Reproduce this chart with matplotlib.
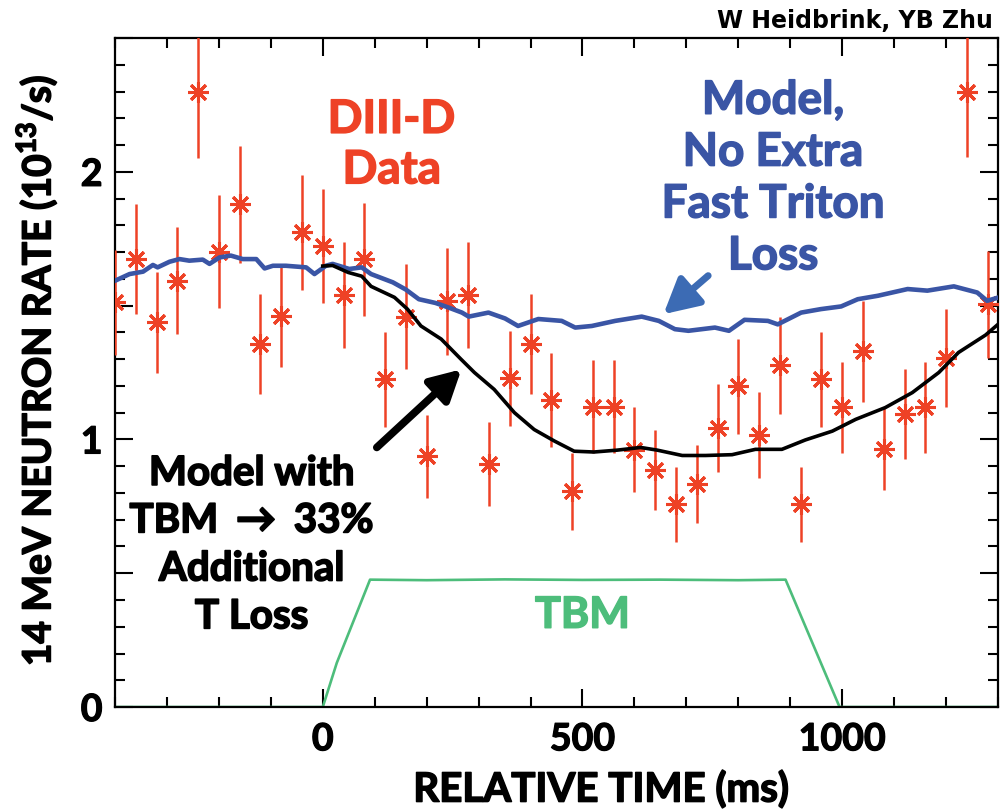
import numpy as np
import matplotlib.pyplot as plt
import matplotlib.patheffects as pe
from matplotlib.ticker import MultipleLocator

plt.rcParams['font.family'] = ['Lato', 'DejaVu Sans']
plt.rcParams['mathtext.fontset'] = 'custom'
plt.rcParams['mathtext.rm'] = 'Lato:bold'
plt.rcParams['mathtext.bf'] = 'Lato:bold'

# measured neutron rate (every 40 ms)
data_t = [-400, -360, -320, -280, -240, -200, -160, -120, -80, -40, 0, 40, 80, 120,
          160, 200, 240, 280, 320, 360, 400, 440, 480, 520, 560, 600, 640, 680,
          720, 760, 800, 840, 880, 920, 960, 1000, 1040, 1080, 1120, 1160, 1200,
          1240, 1280]
data_rate = [1.512, 1.674, 1.437, 1.593, 2.298, 1.702, 1.878, 1.356, 1.460, 1.775,
             1.722, 1.539, 1.673, 1.225, 1.459, 0.937, 1.516, 1.540, 0.908, 1.228,
             1.358, 1.148, 0.806, 1.122, 1.122, 0.962, 0.887, 0.757, 0.835, 1.042,
             1.198, 1.018, 1.277, 0.757, 1.225, 1.120, 1.329, 0.964, 1.095, 1.120,
             1.304, 2.298, 1.506]
data_err = [0.197, 0.207, 0.190, 0.200, 0.245, 0.210, 0.220, 0.187, 0.190, 0.215,
            0.212, 0.199, 0.210, 0.177, 0.195, 0.155, 0.199, 0.199, 0.156, 0.177,
            0.187, 0.175, 0.145, 0.173, 0.173, 0.160, 0.150, 0.140, 0.146, 0.164,
            0.176, 0.161, 0.182, 0.140, 0.177, 0.171, 0.189, 0.152, 0.169, 0.171,
            0.184, 0.243, 0.200]

# model, no extra fast triton loss
blue_t = [-400, -372, -346, -327, -318, -295, -276, -257, -231, -218, -199, -177,
          -154, -128, -112, -96, -71, -32, -16, 6, 19, 51, 75, 93, 135, 160, 185,
          217, 242, 268, 281, 319, 351, 376, 415, 460, 486, 518, 563, 614, 647,
          678, 704, 755, 782, 812, 857, 876, 921, 959, 998, 1030, 1069, 1126,
          1164, 1215, 1260, 1279, 1300]
blue_rate = [1.593, 1.618, 1.627, 1.652, 1.643, 1.664, 1.674, 1.668, 1.672, 1.656,
             1.680, 1.687, 1.674, 1.674, 1.639, 1.649, 1.649, 1.643, 1.618, 1.649,
             1.656, 1.637, 1.643, 1.618, 1.587, 1.560, 1.524, 1.510, 1.493, 1.474,
             1.459, 1.474, 1.452, 1.424, 1.450, 1.443, 1.418, 1.424, 1.443, 1.459,
             1.443, 1.412, 1.406, 1.418, 1.406, 1.447, 1.443, 1.430, 1.474, 1.487,
             1.497, 1.524, 1.537, 1.562, 1.556, 1.572, 1.549, 1.518, 1.530]

# model with TBM -> 33% additional T loss
black_t = [0, 19, 49, 75, 93, 138, 163, 189, 228, 266, 292, 330, 369, 407, 446,
           484, 522, 567, 612, 644, 692, 737, 788, 833, 884, 929, 981, 1026, 1083,
           1135, 1186, 1224, 1276, 1300]
black_rate = [1.648, 1.650, 1.624, 1.610, 1.572, 1.531, 1.487, 1.424, 1.375, 1.300,
              1.250, 1.187, 1.100, 1.037, 0.994, 0.956, 0.953, 0.960, 0.970, 0.960,
              0.940, 0.940, 0.943, 0.963, 0.963, 0.998, 1.031, 1.075, 1.119, 1.175,
              1.250, 1.325, 1.390, 1.430]

# TBM waveform
tbm_t = [-400, 0, 27, 91, 200, 350, 500, 650, 800, 891, 995, 1300]
tbm_val = [0, 0, 0.165, 0.476, 0.474, 0.477, 0.475, 0.476, 0.474, 0.476, 0, 0]

red = '#ee4226'
blue = '#3a55a5'
green = '#4dbd7b'


# slightly heavier text, the original font is a black weight
def thick(color, w=1.1):
    return [pe.withStroke(linewidth=w, foreground=color)]


fig = plt.figure(figsize=(10, 8.11), dpi=100)
ax = fig.add_axes([0.115, 0.1282, 0.883, 0.8249])

ax.plot(tbm_t, tbm_val, color=green, lw=1.9, zorder=2)
ax.errorbar(data_t, data_rate, yerr=data_err, fmt='none', ecolor=red,
            elinewidth=1.8, capsize=0, zorder=3)
ax.plot(data_t, data_rate, ls='none', marker=(8, 2, 0), ms=15, mew=2.2,
        color=red, zorder=3)
ax.plot(blue_t, blue_rate, color=blue, lw=3.3, zorder=4)
ax.plot(black_t, black_rate, color='black', lw=2.6, zorder=5)

ax.set_xlim(-400, 1300)
ax.set_ylim(0, 2.5)
ax.xaxis.set_major_locator(MultipleLocator(500))
ax.xaxis.set_minor_locator(MultipleLocator(100))
ax.set_yticks([0, 0.5, 1, 1.5, 2, 2.5])
ax.set_yticklabels(['0', '', '1', '', '2', ''])
ax.set_yticks(np.arange(0, 2.51, 0.1), minor=True)
ax.tick_params(which='both', direction='in', top=True, right=True, width=1.5,
               labelsize=27)
ax.tick_params(which='major', length=13)
ax.tick_params(which='minor', length=7)
ax.tick_params(axis='x', pad=11)
ax.tick_params(axis='y', pad=9)
for lab in ax.get_xticklabels() + ax.get_yticklabels():
    lab.set_fontweight('bold')
    lab.set_path_effects(thick('black', 0.9))
for s in ax.spines.values():
    s.set_linewidth(1.6)

fig.text(0.601, 0.003, 'RELATIVE TIME (ms)', ha='center', va='bottom',
         fontsize=29, fontweight='bold', path_effects=thick('black'))
fig.text(0.037, 0.543, '14 MeV NEUTRON RATE (10$^{\\mathbf{13}}$/s)', rotation=90,
         ha='center', va='center', fontsize=28, fontweight='bold',
         path_effects=thick('black'))
fig.text(0.993, 0.965, 'W Heidbrink, YB Zhu', ha='right', va='baseline',
         fontsize=17, fontweight='bold', family=['DejaVu Sans'])

ax.text(133, 2.10, 'DIII-D\nData', color=red, ha='center', va='center',
        fontsize=33, fontweight='bold', linespacing=1.25, path_effects=thick(red))
ax.text(867, 1.975, 'Model,\nNo Extra\nFast Triton\nLoss', color=blue,
        ha='center', va='center', fontsize=33, fontweight='bold',
        linespacing=1.29, path_effects=thick(blue))
ax.text(-137, 0.605, 'Model with\nTBM $\\rightarrow$ 33%\nAdditional\nT Loss',
        color='black', ha='center', va='center', fontsize=29,
        fontweight='bold', linespacing=1.36, path_effects=thick('black', 1.2))
ax.text(500, 0.345, 'TBM', color=green, ha='center', va='center', fontsize=31,
        fontweight='bold', path_effects=thick(green))

ax.annotate('', xy=(656, 1.468), xytext=(742, 1.612),
            arrowprops=dict(arrowstyle='-|>,head_length=1.5,head_width=0.8',
                            lw=5, color='#3c6bb4', mutation_scale=14,
                            shrinkA=0, shrinkB=0))
ax.annotate('', xy=(267, 1.262), xytext=(104, 0.97),
            arrowprops=dict(arrowstyle='-|>,head_length=1.3,head_width=0.7',
                            lw=5.5, color='black', mutation_scale=14,
                            shrinkA=0, shrinkB=0))

fig.savefig('out.png', dpi=100)
